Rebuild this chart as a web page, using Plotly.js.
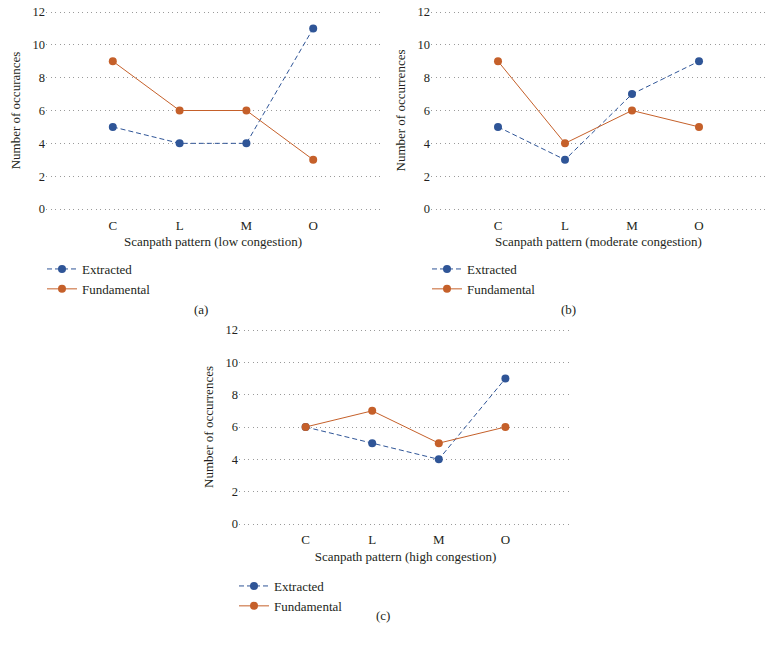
<!DOCTYPE html>
<html>
<head>
<meta charset="utf-8">
<script src="https://cdn.plot.ly/plotly-3.0.1.min.js"></script>
<style>html,body{margin:0;padding:0;background:#fff;}#chart{width:773px;height:651px;}</style>
</head>
<body>
<div id="chart"></div>
<script>
const categories = ["C", "L", "M", "O"];
const extractedLow = [5, 4, 4, 11];
const fundamentalLow = [9, 6, 6, 3];
const extractedModerate = [5, 3, 7, 9];
const fundamentalModerate = [9, 4, 6, 5];
const extractedHigh = [6, 5, 4, 9];
const fundamentalHigh = [6, 7, 5, 6];
const yTicks = [0, 2, 4, 6, 8, 10, 12];
const xTitles = ["Scanpath pattern (low congestion)", "Scanpath pattern (moderate congestion)", "Scanpath pattern (high congestion)"];
const yTitles = ["Number of occurances", "Number of occurrences", "Number of occurrences"];
const panelLabels = ["(a)", "(b)", "(c)"];

const W = 773, H = 651;
const BLUE = "#2F5597", ORANGE = "#C5602A";
const FONT = "Liberation Serif, Times New Roman, serif";
const TXT = "#231F20";
const PAD = 0.4;

// panel pixel boxes: [left, right, y-of-12, y-of-0]
const boxes = [[46, 380, 12, 209], [431, 766, 12, 209], [239, 572, 330, 524]];
const legendPos = [[42, 254], [427, 254], [234, 571]];
const labelPos = [[192, 309], [578, 309], [383, 625]];
const data = [[extractedLow, fundamentalLow], [extractedModerate, fundamentalModerate], [extractedHigh, fundamentalHigh]];

const traces = [];
const layout = {
  width: W, height: H,
  margin: {l: 0, r: 0, t: 0, b: 0},
  paper_bgcolor: "#fff", plot_bgcolor: "#fff",
  font: {family: FONT, size: 12, color: TXT},
  showlegend: true,
  annotations: []
};

boxes.forEach((b, i) => {
  const n = i === 0 ? "" : String(i + 1);
  const xa = "xaxis" + n, ya = "yaxis" + n, lg = "legend" + n;
  const ppu = (b[3] - b[2]) / 12;
  const top = b[2] - PAD * ppu, bot = b[3] + PAD * ppu;
  traces.push({
    x: categories, y: data[i][0], type: "scatter", mode: "lines+markers",
    name: "Extracted", xaxis: "x" + n, yaxis: "y" + n, legend: lg,
    line: {color: BLUE, width: 1, dash: "5px,3px"},
    marker: {color: BLUE, size: 8}
  });
  traces.push({
    x: categories, y: data[i][1], type: "scatter", mode: "lines+markers",
    name: "Fundamental", xaxis: "x" + n, yaxis: "y" + n, legend: lg,
    line: {color: ORANGE, width: 1},
    marker: {color: ORANGE, size: 8}
  });
  layout[xa] = {
    domain: [b[0] / W, b[1] / W], anchor: "y" + n,
    type: "category", range: [-1, 4],
    showgrid: false, zeroline: false, showline: false, ticks: "",
    ticklabelstandoff: 4 - PAD * ppu + 3,
    tickfont: {size: 13, family: FONT, color: TXT},
    title: {text: xTitles[i], font: {size: 13, family: FONT, color: TXT}, standoff: 5},
    fixedrange: true
  };
  layout[ya] = {
    domain: [1 - bot / H, 1 - top / H], anchor: "x" + n,
    range: [-PAD, 12 + PAD], tickvals: yTicks,
    showgrid: true, gridcolor: "#9a9a9a", gridwidth: 1, griddash: "1px,3.5px",
    zeroline: false, showline: false, ticks: "",
    tickfont: {size: 12.5, family: FONT, color: TXT},
    title: {text: yTitles[i], font: {size: 13, family: FONT, color: TXT}, standoff: 8},
    fixedrange: true
  };
  layout[lg] = {
    x: legendPos[i][0] / W, y: 1 - legendPos[i][1] / H,
    xanchor: "left", yanchor: "top", xref: "paper", yref: "paper",
    bgcolor: "rgba(0,0,0,0)", borderwidth: 0,
    font: {size: 13, family: FONT, color: TXT},
    tracegroupgap: 0, itemwidth: 30
  };
  layout.annotations.push({
    text: panelLabels[i], x: labelPos[i][0] / W, y: 1 - labelPos[i][1] / H,
    xref: "paper", yref: "paper", showarrow: false,
    font: {size: 13, family: FONT, color: TXT}
  });
});

Plotly.newPlot("chart", traces, layout, {displayModeBar: false, staticPlot: true});
</script>
</body>
</html>
